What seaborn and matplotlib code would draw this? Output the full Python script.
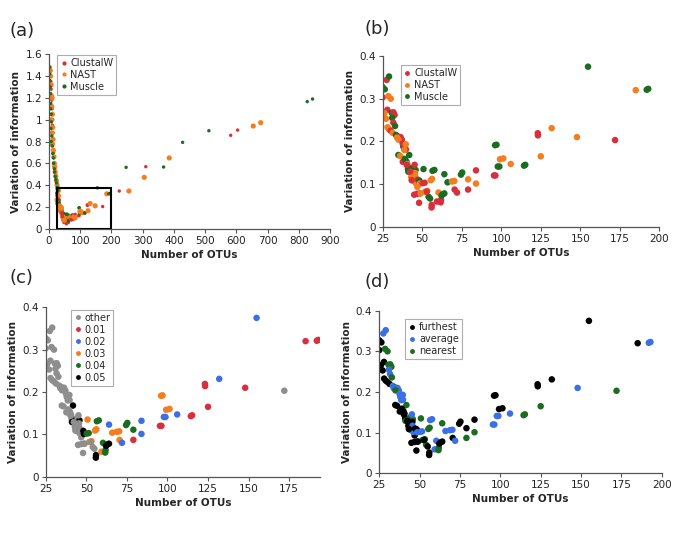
import pandas as pd
import matplotlib.pyplot as plt
import seaborn as sns
from matplotlib.lines import Line2D
from matplotlib.patches import Rectangle
from matplotlib.ticker import FuncFormatter

# OTU results shown in panels (b)-(d); one entry per clustering run
otus = [25.0, 26.3, 25.0, 27.5, 29.0, 28.6, 30.1, 27.9, 26.0, 27.1,
        30.7, 31.8, 32.5, 31.0, 31.7, 28.0, 29.0, 30.0, 31.3, 32.8,
        33.4, 34.9, 35.9, 37.0, 36.3, 37.0, 34.0, 35.0, 38.0, 39.7,
        38.6, 34.9, 36.0, 41.8, 37.7, 39.0, 40.0, 40.6, 41.0, 41.0,
        41.2, 42.5, 43.5, 44.6, 45.8, 43.0, 44.0, 45.5, 45.2, 43.0,
        44.0, 45.6, 44.9, 46.8, 48.5, 48.0, 46.9, 46.0, 47.2, 48.2,
        48.5, 50.3, 51.5, 50.8, 51.8, 53.2, 54.0, 55.0, 55.9, 56.0,
        55.4, 56.2, 56.5, 57.7, 59.3, 60.3, 61.7, 61.9, 62.2, 63.0,
        64.0, 64.0, 66.0, 68.8, 70.3, 70.5, 72.0, 74.5, 75.3, 79.0,
        79.0, 84.0, 84.0, 95.4, 96.3, 96.1, 97.0, 97.8, 98.8, 99.2,
        101.3, 106.0, 114.4, 115.2, 123.1, 123.2, 125.0, 131.9, 147.9, 154.9,
        172.0, 185.1, 192.0, 193.0, 43.3, 42.3, 40.2, 37.6, 52.8, 49.0,
        39.6]
vi = [0.327, 0.322, 0.303, 0.344, 0.352, 0.306, 0.300, 0.274, 0.266, 0.253,
      0.267, 0.268, 0.262, 0.255, 0.244, 0.233, 0.228, 0.225, 0.220, 0.236,
      0.215, 0.211, 0.207, 0.203, 0.210, 0.204, 0.209, 0.204, 0.188, 0.181,
      0.180, 0.168, 0.166, 0.168, 0.152, 0.159, 0.153, 0.147, 0.140, 0.135,
      0.129, 0.130, 0.134, 0.139, 0.133, 0.127, 0.120, 0.126, 0.145, 0.117,
      0.108, 0.117, 0.075, 0.077, 0.078, 0.056, 0.093, 0.102, 0.110, 0.108,
      0.101, 0.102, 0.103, 0.135, 0.082, 0.084, 0.070, 0.066, 0.045, 0.051,
      0.109, 0.112, 0.131, 0.133, 0.059, 0.080, 0.057, 0.063, 0.073, 0.076,
      0.078, 0.123, 0.104, 0.106, 0.107, 0.087, 0.080, 0.122, 0.127, 0.087,
      0.111, 0.132, 0.101, 0.120, 0.120, 0.191, 0.192, 0.141, 0.141, 0.158,
      0.160, 0.147, 0.143, 0.145, 0.219, 0.214, 0.165, 0.231, 0.210, 0.375,
      0.203, 0.320, 0.321, 0.323, 0.109, 0.129, 0.145, 0.195, 0.082, 0.078,
      0.193]
aligner = list('MMCCMNNCNN'
               'MCCMCNNCNM'
               'MMMMCCNNMC'
               'NMNMCMMNMM'
               'MMMMMNNNCN'
               'NNCCCCNNCM'
               'NCCMNNMMCC'
               'NNMMCNCCMM'
               'MMMNNCCMMC'
               'NCNCCMMMMN'
               'NNMMCCNNNM'
               'CNMMCCCCCN'
               'N')
cutoff = (['other'] * 33 + ['0.05'] + ['other'] * 6
          + ['0.05', '0.05', '0.05', 'other', '0.05', '0.05'] + ['other'] * 13
          + ['0.05', '0.05',
             '0.04', '0.04', '0.03', '0.03', '0.03', 'other', 'other', '0.05', '0.05',
             '0.03', '0.03', '0.04', '0.04', '0.03', '0.04', '0.04', '0.04', '0.05', '0.05',
             '0.05', '0.02', '0.03', '0.03', '0.03', '0.03', '0.02', '0.04', '0.04', '0.01',
             '0.04', '0.02', '0.02', '0.01', '0.01', '0.03', '0.03', '0.02', '0.02', '0.03',
             '0.03', '0.02', '0.01', '0.01', '0.01', '0.01', '0.01', '0.02', '0.01', '0.02',
             'other', '0.01', '0.01', '0.01']
          + ['other'] * 7)
linkage = list('FFFAANNFFF'
               'NNNAAFFFFN'
               'ANNNAAANAA'
               'AFFNFFFFAF'
               'NNNNNFFFAF'
               'FAFFFFFAFF'
               'AAANNNNFFF'
               'NNAAAANNFF'
               'FNAAAFAFFN'
               'FFNAAFFAAF'
               'FANNFFNFAF'
               'NFAAFFFAFF'
               'A')
linkage_names = {'F': 'furthest', 'A': 'average', 'N': 'nearest'}
aligner_names = {'C': 'ClustalW', 'N': 'NAST', 'M': 'Muscle'}

# extra runs only visible in the full-range panel (a)
wide_clustalw_x = [3, 6, 7, 9, 10, 12, 11, 13, 14, 12, 15, 16, 18, 19, 21, 23, 25, 27, 29,
                   225, 310, 582, 604]
wide_clustalw_y = [1.45, 1.35, 1.28, 1.18, 1.10, 1.00, 0.95, 0.88, 0.82, 0.76, 0.70, 0.65,
                   0.60, 0.55, 0.50, 0.46, 0.42, 0.39, 0.36,
                   0.346, 0.569, 0.857, 0.905]
wide_nast_x = [2, 4, 5, 7, 8, 10, 9, 11, 8, 12, 10, 13, 11, 14, 16, 17, 18, 20, 22, 24, 26, 28, 30,
               256, 305, 385, 654, 678]
wide_nast_y = [1.48, 1.45, 1.40, 1.32, 1.22, 1.20, 1.12, 1.05, 1.00, 0.93, 0.88, 0.82, 0.78,
               0.72, 0.66, 0.60, 0.57, 0.52, 0.48, 0.44, 0.40, 0.37, 0.35,
               0.346, 0.471, 0.649, 0.942, 0.973]
wide_muscle_x = [1, 2, 3, 4, 5, 6, 5, 7, 8, 6, 9, 7, 10, 12, 14, 15, 17, 18, 20, 22, 24, 27,
                 247, 367, 428, 512, 827, 844]
wide_muscle_y = [1.48, 1.42, 1.36, 1.30, 1.24, 1.15, 1.10, 1.05, 0.98, 0.92, 0.85, 0.80, 0.76,
                 0.69, 0.65, 0.60, 0.55, 0.52, 0.48, 0.45, 0.42, 0.38,
                 0.563, 0.566, 0.792, 0.899, 1.166, 1.19]

df = pd.DataFrame({'otus': otus, 'vi': vi,
                   'aligner': [aligner_names[a] for a in aligner],
                   'cutoff': cutoff,
                   'linkage': [linkage_names[k] for k in linkage]})
wide = pd.concat([
    pd.DataFrame({'otus': wide_clustalw_x, 'vi': wide_clustalw_y, 'aligner': 'ClustalW'}),
    pd.DataFrame({'otus': wide_nast_x, 'vi': wide_nast_y, 'aligner': 'NAST'}),
    pd.DataFrame({'otus': wide_muscle_x, 'vi': wide_muscle_y, 'aligner': 'Muscle'}),
], ignore_index=True)
full = pd.concat([wide, df[['otus', 'vi', 'aligner']]], ignore_index=True)

aligner_pal = {'ClustalW': '#d7303c', 'NAST': '#f47d20', 'Muscle': '#1b6b21'}
cutoff_pal = {'other': '#8e8e8e', '0.01': '#d7303c', '0.02': '#3c6fe6',
              '0.03': '#f47d20', '0.04': '#1b6b21', '0.05': '#000000'}
linkage_pal = {'furthest': '#000000', 'average': '#3c6fe6', 'nearest': '#1b6b21'}

sns.set_theme(style='ticks')
plt.rcParams['font.family'] = ['DejaVu Sans']
axis_col = '#555555'

fig = plt.figure(figsize=(6.85, 5.33), dpi=100)
ax_a = fig.add_axes([0.0715, 0.5709, 0.4103, 0.3272])
ax_b = fig.add_axes([0.5587, 0.5747, 0.4038, 0.3202])
ax_c = fig.add_axes([0.0667, 0.1056, 0.4005, 0.3179])
ax_d = fig.add_axes([0.5537, 0.1120, 0.4123, 0.3051])


def style_axes(ax, xlim, ylim, xticks, yticks):
    ax.set_xlim(*xlim)
    ax.set_ylim(*ylim)
    ax.set_xticks(xticks)
    ax.set_yticks(yticks)
    fmt = FuncFormatter(lambda v, p: f'{v:g}')
    ax.xaxis.set_major_formatter(fmt)
    ax.yaxis.set_major_formatter(fmt)
    for side in ['top', 'right']:
        ax.spines[side].set_visible(False)
    for side in ['left', 'bottom']:
        ax.spines[side].set_color(axis_col)
        ax.spines[side].set_linewidth(0.9)
    ax.tick_params(length=3, width=0.8, color=axis_col, labelsize=7.5,
                   labelcolor='#222222', pad=2)
    ax.set_xlabel('Number of OTUs', fontsize=7.5, fontweight='bold', labelpad=3)
    ax.set_ylabel('Variation of information', fontsize=7.5, fontweight='bold', labelpad=3)


def add_legend(ax, order, pal, anchor, ms=3.5):
    handles = [Line2D([], [], marker='o', ls='', color=pal[k], markersize=ms,
                      markeredgewidth=0, label=k) for k in order]
    leg = ax.legend(handles=handles, loc='upper left', bbox_to_anchor=anchor,
                    frameon=True, fancybox=False, edgecolor='#999999',
                    fontsize=7, handlelength=0.8, handletextpad=0.3,
                    borderpad=0.3, labelspacing=0.2, borderaxespad=0)
    leg.get_frame().set_linewidth(0.8)


# (a) full range
sns.scatterplot(data=full, x='otus', y='vi', hue='aligner', size='aligner',
                sizes={'ClustalW': 6, 'NAST': 14, 'Muscle': 6},
                hue_order=['ClustalW', 'NAST', 'Muscle'], palette=aligner_pal,
                linewidth=0, legend=False, ax=ax_a)
ax_a.add_patch(Rectangle((25, 0), 175, 0.37, fill=False, edgecolor='black',
                         linewidth=1.5, zorder=5))
style_axes(ax_a, (0, 900), (0, 1.6), range(0, 901, 100),
           [0, 0.2, 0.4, 0.6, 0.8, 1, 1.2, 1.4, 1.6])
add_legend(ax_a, ['ClustalW', 'NAST', 'Muscle'], aligner_pal, (0.028, 0.996), ms=3)

# (b) zoom, coloured by aligner
sns.scatterplot(data=df, x='otus', y='vi', hue='aligner',
                hue_order=['ClustalW', 'NAST', 'Muscle'], palette=aligner_pal,
                s=22, linewidth=0, legend=False, ax=ax_b)
style_axes(ax_b, (25, 200), (0, 0.4), range(25, 201, 25), [0, 0.1, 0.2, 0.3, 0.4])
add_legend(ax_b, ['ClustalW', 'NAST', 'Muscle'], aligner_pal, (0.065, 0.947))

# (c) coloured by cutoff
sns.scatterplot(data=df, x='otus', y='vi', hue='cutoff',
                hue_order=list(cutoff_pal), palette=cutoff_pal,
                s=22, linewidth=0, legend=False, ax=ax_c)
style_axes(ax_c, (25, 194), (0, 0.4), range(25, 176, 25), [0, 0.1, 0.2, 0.3, 0.4])
add_legend(ax_c, list(cutoff_pal), cutoff_pal, (0.092, 0.984))

# (d) coloured by linkage
sns.scatterplot(data=df, x='otus', y='vi', hue='linkage',
                hue_order=list(linkage_pal), palette=linkage_pal,
                s=22, linewidth=0, legend=False, ax=ax_d)
style_axes(ax_d, (25, 200), (0, 0.4), range(25, 201, 25), [0, 0.1, 0.2, 0.3, 0.4])
add_legend(ax_d, list(linkage_pal), linkage_pal, (0.092, 0.947))

for letter, x, y in [('(a)', 0.014, 0.942), ('(b)', 0.532, 0.946),
                     ('(c)', 0.014, 0.478), ('(d)', 0.532, 0.471)]:
    fig.text(x, y, letter, fontsize=13, va='center', ha='left')

fig.savefig('out.png', dpi=100)
